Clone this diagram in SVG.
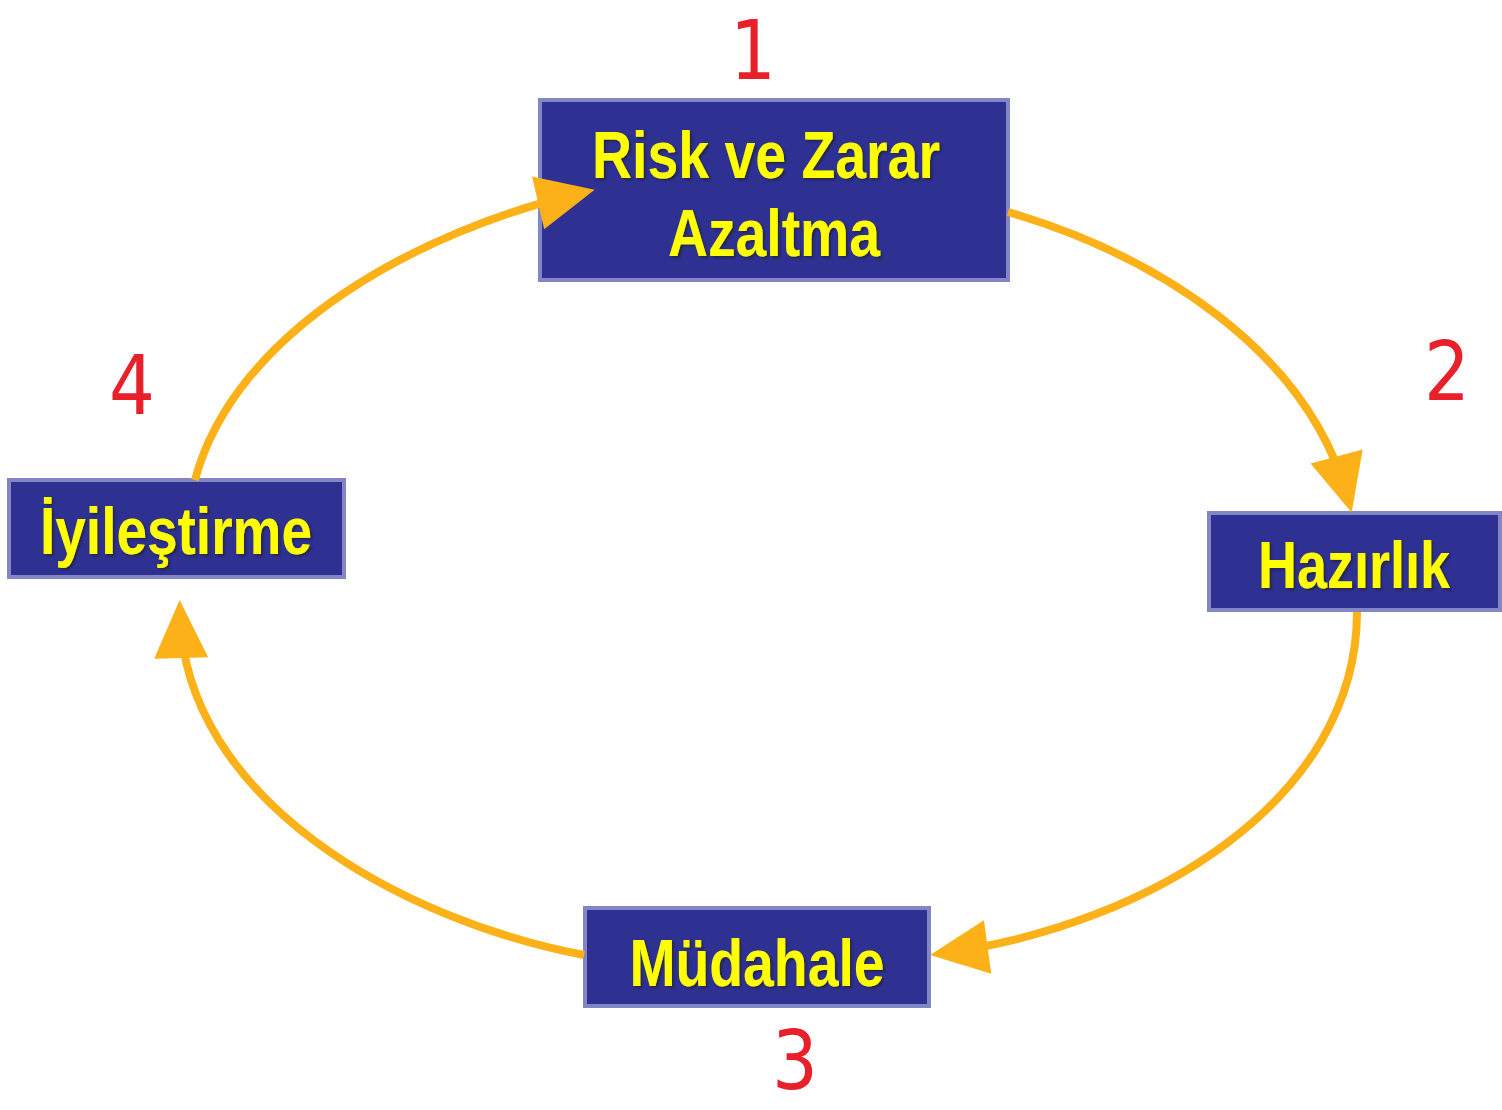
<svg xmlns="http://www.w3.org/2000/svg" width="1502" height="1110" viewBox="0 0 1502 1110">
<style>
.box{fill:#2e3192;stroke:#8286c4;stroke-width:4}
.lbl{font-family:"Liberation Sans",Arial,sans-serif;font-weight:bold;font-size:66px;fill:#ffff00;filter:url(#sh)}
.num{font-family:"DejaVu Sans",sans-serif;font-size:82px;fill:#e8202a}
.con{fill:none;stroke:#fbb117;stroke-width:8}
</style>
<defs>
<filter id="sh" x="-10%" y="-20%" width="120%" height="150%">
<feDropShadow dx="2" dy="2" stdDeviation="1.2" flood-color="#202040" flood-opacity="0.9"/>
</filter>
<marker id="ah" markerUnits="userSpaceOnUse" markerWidth="120" markerHeight="120" refX="0" refY="0" orient="auto" overflow="visible">
<path d="M-44,-27 L14,0 L-44,27 Z" fill="#fbb117"/>
</marker>
</defs>
<g id="node1">
<rect class="box" x="540" y="100" width="468" height="180"/>
<text class="lbl" x="766" y="178" text-anchor="middle" textLength="348" lengthAdjust="spacingAndGlyphs">Risk ve Zarar</text>
<text class="lbl" x="774" y="256" text-anchor="middle" textLength="212" lengthAdjust="spacingAndGlyphs">Azaltma</text>
</g>
<g id="node2">
<rect class="box" x="1209" y="513" width="291" height="97"/>
<text class="lbl" x="1354" y="588" text-anchor="middle" textLength="192" lengthAdjust="spacingAndGlyphs">Hazırlık</text>
</g>
<g id="node3">
<rect class="box" x="585" y="908" width="344" height="98"/>
<text class="lbl" x="757" y="986" text-anchor="middle" textLength="255" lengthAdjust="spacingAndGlyphs">Müdahale</text>
</g>
<g id="node4">
<rect class="box" x="9" y="480" width="335" height="97"/>
<text class="lbl" x="176" y="554" text-anchor="middle" textLength="272" lengthAdjust="spacingAndGlyphs">İyileştirme</text>
</g>
<g id="connectors">
<path class="con" marker-end="url(#ah)" d="M1008,212 C1155,255 1308,350 1348,499"/>
<path class="con" marker-end="url(#ah)" d="M1357,612 C1357,800 1150,925 944,953"/>
<path class="con" marker-end="url(#ah)" d="M584,955 C400,920 185,800 180,614"/>
<path class="con" marker-end="url(#ah)" d="M195,480 C235,330 420,230 581,193"/>
</g>
<g id="numbers">
<text class="num" x="753" y="79" text-anchor="middle" transform="translate(753 0) scale(0.88 1) translate(-753 0)">1</text>
<text class="num" x="1447" y="400" text-anchor="middle" transform="translate(1447 0) scale(0.88 1) translate(-1447 0)">2</text>
<text class="num" x="795" y="1089" text-anchor="middle" transform="translate(795 0) scale(0.88 1) translate(-795 0)">3</text>
<text class="num" x="132" y="414" text-anchor="middle" transform="translate(132 0) scale(0.88 1) translate(-132 0)">4</text>
</g>
</svg>
